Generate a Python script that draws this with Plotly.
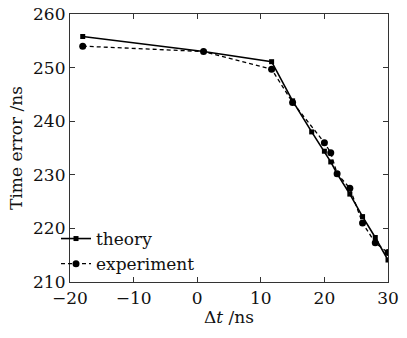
import plotly.graph_objects as go

theory_x = [-18, 1, 11.7, 15, 18, 20, 21, 22, 24, 26, 28, 30]
theory_y = [255.8, 253.0, 251.1, 243.8, 238.0, 234.4, 232.4, 230.2, 226.4, 222.2, 218.3, 214.1]

exp_x = [-18, 1, 11.7, 15, 20, 21, 22, 24, 26, 28, 30]
exp_y = [254.0, 253.0, 249.7, 243.5, 236.0, 234.1, 230.2, 227.5, 221.0, 217.3, 215.5]

x_ticks = [-20, -10, 0, 10, 20, 30]
y_ticks = [210, 220, 230, 240, 250, 260]

font = "DejaVu Serif"
fs = 17

fig = go.Figure()
fig.add_trace(go.Scatter(
    x=theory_x, y=theory_y, name="theory", mode="lines+markers",
    line=dict(color="black", width=1.6),
    marker=dict(symbol="square", size=5, color="black"),
))
fig.add_trace(go.Scatter(
    x=exp_x, y=exp_y, name="experiment", mode="lines+markers",
    line=dict(color="black", width=1.3, dash="4px,3px"),
    marker=dict(symbol="circle", size=7, color="black"),
))

axis_common = dict(
    showgrid=False, zeroline=False, showline=True, linecolor="#333", linewidth=1.2,
    mirror="ticks", ticks="inside", ticklen=5, tickcolor="#333", tickwidth=1,
    tickfont=dict(family=font, size=fs, color="#111"), automargin=False,
)
fig.update_xaxes(range=[-20, 30], tickvals=x_ticks,
                 title=dict(text="Δ<i>t</i> /ns", font=dict(family=font, size=fs, color="#111"), standoff=2),
                 **axis_common)
fig.update_yaxes(range=[210, 260], tickvals=y_ticks,
                 title=dict(text="Time error /ns", font=dict(family=font, size=fs, color="#111"), standoff=6),
                 **axis_common)

fig.update_layout(
    width=407, height=338,
    margin=dict(l=70, r=19, t=14, b=56),
    plot_bgcolor="white", paper_bgcolor="white",
    showlegend=True,
    legend=dict(x=-0.044, y=0.0, xanchor="left", yanchor="bottom",
                bgcolor="rgba(0,0,0,0)", font=dict(family=font, size=fs, color="#111"),
                itemwidth=30, tracegroupgap=0),
)

fig.write_html("out.html")
